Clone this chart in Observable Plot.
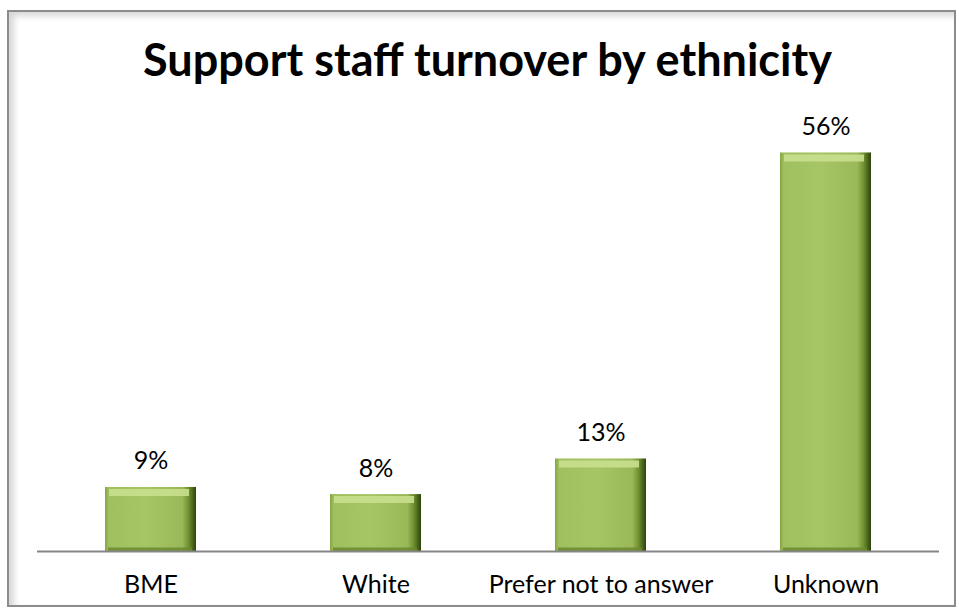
<!DOCTYPE html>
<html>
<head>
<meta charset="utf-8">
<script src="https://cdn.jsdelivr.net/npm/d3@7"></script>
<script src="https://cdn.jsdelivr.net/npm/@observablehq/plot@0.6"></script>
<style>
  html, body { margin: 0; padding: 0; background: #fff; }
  #wrap { position: relative; width: 959px; height: 611px; overflow: hidden; font-family: Lato, "Open Sans", sans-serif; }
  #frame { position: absolute; left: 7px; top: 10px; width: 945px; height: 593px; border: 2px solid #8c8c8c;
           box-shadow: inset 5px 4px 6px rgba(0,0,0,0.16); background: #fff; }
  #title { position: absolute; left: 8px; width: 959px; top: 37px; text-align: center; font-weight: bold;
           font-size: 45px; line-height: 45px; color: #000; font-family: Lato, "Open Sans", sans-serif; white-space: nowrap; }
  #chart { position: absolute; left: 0; top: 0; }
</style>
</head>
<body>
<div id="wrap">
  <div id="frame"></div>
  <div id="chart"></div>
  <div id="title">Support staff turnover by ethnicity</div>
</div>
<script>
const categories = ["BME", "White", "Prefer not to answer", "Unknown"];
const values = [9, 8, 13, 56];
const valueLabels = ["9%", "8%", "13%", "56%"];

const data = categories.map((c, i) => ({category: c, value: values[i], label: valueLabels[i]}));

const defs = () => {
  const d = d3.create("svg:defs");
  const h = d.append("linearGradient").attr("id", "hgrad").attr("x1", "0").attr("x2", "1").attr("y1", "0").attr("y2", "0");
  [["0%", "#85a443"], ["4%", "#a0bf5e"], ["45%", "#a6c565"], ["85%", "#9ab858"], ["92%", "#6f8f30"], ["100%", "#2a440c"]]
    .forEach(([o, c]) => h.append("stop").attr("offset", o).attr("stop-color", c));
  return d.node();
};

const inset = 67;
const plot = Plot.plot({
  width: 959,
  height: 611,
  marginLeft: 37,
  marginRight: 20,
  marginTop: 124,
  marginBottom: 60,
  style: {background: "transparent", fontFamily: "Lato, 'Open Sans', sans-serif"},
  x: {domain: categories, padding: 0, axis: null},
  y: {domain: [0, 60], axis: null},
  marks: [
    defs,
    Plot.barY(data, {x: "category", y: "value", fill: "url(#hgrad)", insetLeft: inset, insetRight: inset}),
    Plot.tickY(data, {x: "category", y: "value", stroke: "#c9e08f", strokeWidth: 7, dy: 5, insetLeft: inset + 4, insetRight: inset + 7, strokeOpacity: 0.9}),
    Plot.tickY(data, {x: "category", y: () => 0, stroke: "#6a8a2e", strokeWidth: 4, dy: -2, insetLeft: inset + 3, insetRight: inset + 4, strokeOpacity: 0.85}),
    Plot.ruleY([0], {stroke: "#868686", strokeWidth: 2}),
    Plot.text(data, {x: "category", y: "value", text: "label", dy: -26, fontSize: 25, fill: "#000"}),
    Plot.axisX({domain: categories, tickSize: 0, tickPadding: 24, fontSize: 25, label: null, color: "#000"}),
  ]
});
document.getElementById("chart").appendChild(plot);
</script>
</body>
</html>
